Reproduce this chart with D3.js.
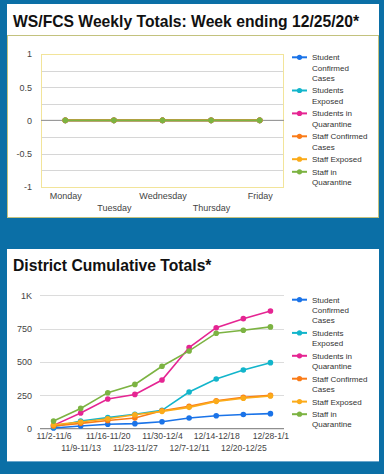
<!DOCTYPE html>
<html><head><meta charset="utf-8">
<script src="https://cdn.jsdelivr.net/npm/d3@7"></script>
<style>
html,body{margin:0;padding:0;background:#0b6fa6;}
svg{display:block;}
text{font-family:"Liberation Sans",Arial,sans-serif;}
</style></head>
<body>
<svg id="c" width="384" height="474"></svg>
<script>
// ---- data ----
const days = ["Monday","Tuesday","Wednesday","Thursday","Friday"];
const weeklyStudentConfirmed = [0,0,0,0,0];
const weeklyStudentsExposed = [0,0,0,0,0];
const weeklyStudentsQuarantine = [0,0,0,0,0];
const weeklyStaffConfirmed = [0,0,0,0,0];
const weeklyStaffExposed = [0,0,0,0,0];
const weeklyStaffQuarantine = [0,0,0,0,0];
const weeklyTicks = [-1,-0.5,0,0.5,1];
const weeklyTickLabels = ["-1","-0.5","0","0.5","1"];

const weeks = ["11/2-11/6","11/9-11/13","11/16-11/20","11/23-11/27","11/30-12/4","12/7-12/11","12/14-12/18","12/20-12/25","12/28-1/1"];
const cumStudentConfirmed = [5,20,33,38,52,80,97,107,113];
const cumStudentsExposed = [15,58,83,108,138,275,373,440,495];
const cumStudentsQuarantine = [25,118,223,257,365,608,757,825,882];
const cumStaffConfirmed = [20,40,62,80,135,168,210,235,250];
const cumStaffExposed = [30,50,75,105,130,160,205,228,245];
const cumStaffQuarantine = [57,152,270,332,468,583,716,738,763];
const cumTicks = [0,250,500,750,1000];
const cumTickLabels = ["0","250","500","750","1K"];

const seriesNames = [["Student","Confirmed","Cases"],["Students","Exposed"],["Students in","Quarantine"],["Staff Confirmed","Cases"],["Staff Exposed"],["Staff in","Quarantine"]];
const seriesColors = ["#1a73e8","#12b5cb","#e52592","#fa7b17","#fbab1a","#7cb342"];

const weeklySeries = [weeklyStudentConfirmed,weeklyStudentsExposed,weeklyStudentsQuarantine,weeklyStaffConfirmed,weeklyStaffExposed,weeklyStaffQuarantine];
const cumSeries = [cumStudentConfirmed,cumStudentsExposed,cumStudentsQuarantine,cumStaffConfirmed,cumStaffExposed,cumStaffQuarantine];

const svg = d3.select("#c");

// panels
svg.append("rect").attr("x",7).attr("y",4).attr("width",372).attr("height",214).attr("fill","#fff");
svg.append("rect").attr("x",7.5).attr("y",35.5).attr("width",371).attr("height",182).attr("fill","none").attr("stroke","#c3c27e").attr("stroke-width",1);
svg.append("text").attr("x",13).attr("y",27).attr("font-size",15.7).attr("font-weight","bold").attr("fill","#111").text("WS/FCS Weekly Totals: Week ending 12/25/20*");

svg.append("rect").attr("x",7).attr("y",249).attr("width",372).attr("height",212).attr("fill","#fff");
svg.append("line").attr("x1",7).attr("x2",379).attr("y1",461.5).attr("y2",461.5).attr("stroke","#6aa6cc");
svg.append("text").attr("x",13).attr("y",271).attr("font-size",15.7).attr("font-weight","bold").attr("fill","#111").text("District Cumulative Totals*");

function legend(g, y0){
  let y = y0;
  seriesNames.forEach((lines,i)=>{
    g.append("line").attr("x1",292).attr("x2",307).attr("y1",y).attr("y2",y).attr("stroke",seriesColors[i]).attr("stroke-width",2);
    g.append("circle").attr("cx",299.5).attr("cy",y).attr("r",2.6).attr("fill",seriesColors[i]);
    lines.forEach((t,j)=>{
      g.append("text").attr("x",312).attr("y",y+j*10.3+2.9).attr("font-size",8).attr("fill","#333").text(t);
    });
    y += lines.length*10.3 + 2.3;
  });
}

// ---- top chart ----
{
  const g = svg.append("g");
  const x = d3.scalePoint().domain(days).range([41,284]).padding(0.5);
  const y = d3.scaleLinear().domain([-1,1]).range([186.7,54]);
  const grid = d3.range(-1,1.001,0.25);
  g.selectAll(".gl").data(grid).join("line").attr("x1",41).attr("x2",284)
    .attr("y1",d=>Math.round(y(d))+0.5).attr("y2",d=>Math.round(y(d))+0.5).attr("stroke","#d6d6d6");
  g.append("rect").attr("x",41.5).attr("y",Math.round(y(1))+0.5).attr("width",242).attr("height",Math.round(y(-1))-Math.round(y(1)))
    .attr("fill","none").attr("stroke","#f2e49a").attr("stroke-width",1);
  g.append("line").attr("x1",41).attr("x2",284).attr("y1",y(0)).attr("y2",y(0)).attr("stroke","#8f8f8f").attr("stroke-width",1);
  const yAxis = d3.axisLeft(y).tickValues(weeklyTicks).tickFormat((d,i)=>weeklyTickLabels[i]).tickSize(0).tickPadding(0);
  const ya = g.append("g").attr("transform","translate(32,0)").call(yAxis);
  ya.select(".domain").remove();
  ya.selectAll("text").attr("font-size",9).attr("fill","#444").attr("font-family","Liberation Sans, Arial, sans-serif");
  const xAxis = d3.axisBottom(x).tickSize(0).tickPadding(0);
  const xa = g.append("g").attr("transform","translate(0,191)").call(xAxis);
  xa.select(".domain").remove();
  xa.selectAll("text").attr("font-size",9).attr("fill","#444").attr("font-family","Liberation Sans, Arial, sans-serif")
    .attr("dy",(d,i)=> i%2 ? "2.25em" : "0.92em");
  const line = d3.line().x((d,i)=>x(days[i])).y(d=>y(d));
  weeklySeries.forEach((s,k)=>{
    g.append("path").datum(s).attr("d",line).attr("fill","none").attr("stroke",seriesColors[k]).attr("stroke-width",1.6);
    g.selectAll(".p"+k).data(s).join("circle").attr("cx",(d,i)=>x(days[i])).attr("cy",d=>y(d)).attr("r",2.8).attr("fill",seriesColors[k]);
  });
  legend(g,57.3);
}

// ---- bottom chart ----
{
  const g = svg.append("g");
  const x = d3.scalePoint().domain(weeks).range([40,284]).padding(0.5);
  const y = d3.scaleLinear().domain([0,1000]).range([428.7,295.3]);
  g.selectAll(".gl").data(cumTicks.slice(1)).join("line").attr("x1",40).attr("x2",284)
    .attr("y1",d=>Math.round(y(d))+0.5).attr("y2",d=>Math.round(y(d))+0.5).attr("stroke","#dcdcdc");
  g.append("line").attr("x1",40).attr("x2",284).attr("y1",y(0)).attr("y2",y(0)).attr("stroke","#8f8f8f").attr("stroke-width",1.2);
  const yAxis = d3.axisLeft(y).tickValues(cumTicks).tickFormat((d,i)=>cumTickLabels[i]).tickSize(0).tickPadding(0);
  const ya = g.append("g").attr("transform","translate(32,0)").call(yAxis);
  ya.select(".domain").remove();
  ya.selectAll("text").attr("font-size",9).attr("fill","#444").attr("font-family","Liberation Sans, Arial, sans-serif");
  const xAxis = d3.axisBottom(x).tickSize(0).tickPadding(0);
  const xa = g.append("g").attr("transform","translate(0,432)").call(xAxis);
  xa.select(".domain").remove();
  xa.selectAll("text").attr("font-size",8.6).attr("fill","#444").attr("font-family","Liberation Sans, Arial, sans-serif")
    .attr("dy",(d,i)=> i%2 ? "2.2em" : "0.87em");
  const line = d3.line().x((d,i)=>x(weeks[i])).y(d=>y(d));
  cumSeries.forEach((s,k)=>{
    g.append("path").datum(s).attr("d",line).attr("fill","none").attr("stroke",seriesColors[k]).attr("stroke-width",1.6);
    g.selectAll(".p"+k).data(s).join("circle").attr("cx",(d,i)=>x(weeks[i])).attr("cy",d=>y(d)).attr("r",2.8).attr("fill",seriesColors[k]);
  });
  legend(g,299.7);
}
</script>
</body></html>
